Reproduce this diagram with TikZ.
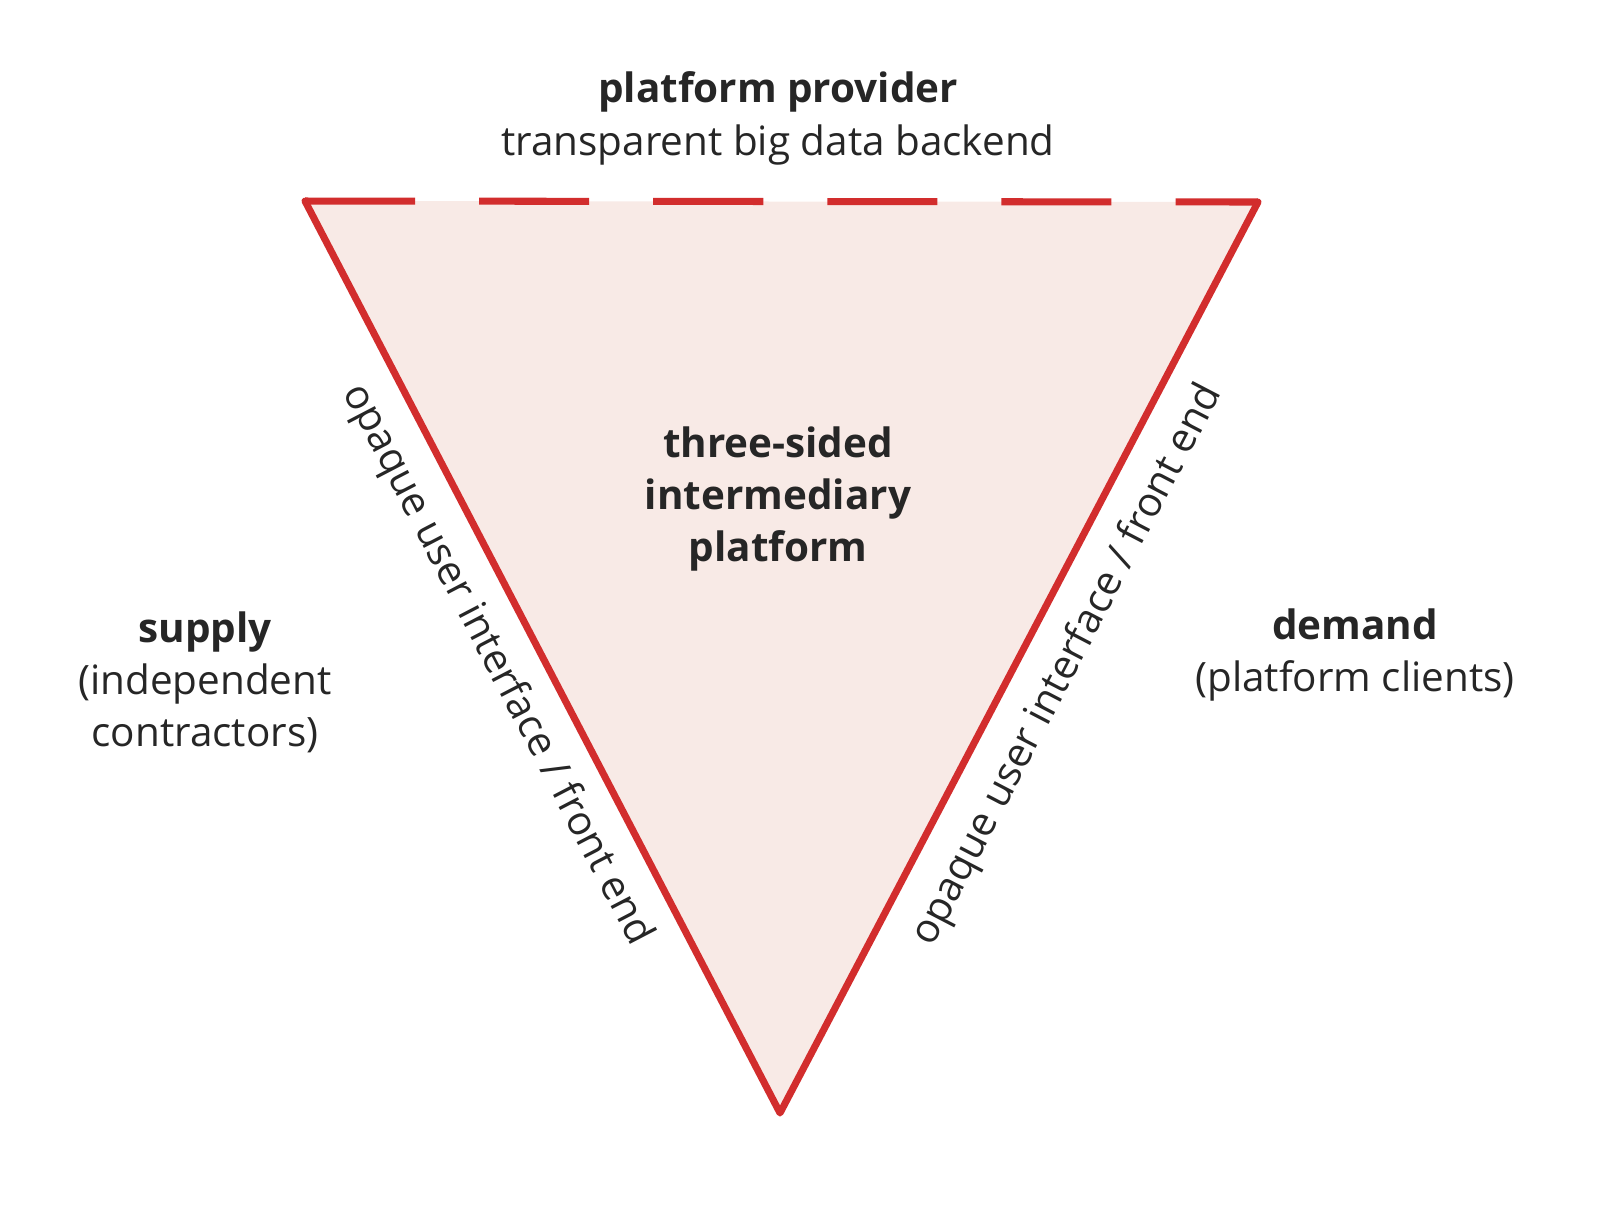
\documentclass[tikz,border=0pt]{standalone}
\usepackage{fontspec}
\setmainfont{Open Sans}
\usetikzlibrary{positioning}
\definecolor{edgered}{RGB}{210,45,45}
\definecolor{innerpink}{RGB}{248,234,230}
\begin{document}
\begin{tikzpicture}[
        x = 0.01cm, y = -0.01cm, % pixel grid, y downwards
        every node/.style = {font=\fontsize{11.5}{14.8}\selectfont, align=center, text=black!85},
        heading/.style = {font=\fontsize{11.5}{14.8}\selectfont\bfseries},
        side/.style = {line width=2pt, draw=edgered, line cap=round, line join=round}
    ]
    \useasboundingbox (0,0) rectangle (1600,1205);

    % corners of the triangle
    \coordinate (TL) at (305,201);
    \coordinate (TR) at (1258,202);
    \coordinate (B) at (780,1113);

    \fill[innerpink] (TL) -- (TR) -- (B) -- cycle;
    \draw[side, line cap=butt, dash pattern=on 38pt off 0pt] (TL) -- ++(0,0);
    \draw[side, line cap=butt, dash pattern=on 1.1cm off 0.64cm] (TL) -- (TR);
    \draw[side] (TR) -- (B) -- (TL);

    \node[heading] (prov) at (778,92) {platform provider};
    \node (back) at (778,145) {transparent big data backend};

    \node[heading] (plat) at (778,499) {three-sided\\intermediary\\platform};

    \node (supply) at (205,682) {\textbf{supply}\\(independent\\contractors)};
    \node (demand) at (1355,655) {\textbf{demand}\\(platform clients)};

    \node[rotate=-62.5] (leftui) at (497,665) {opaque user interface / front end};
    \node[rotate=62.5] (rightui) at (1068,665) {opaque user interface / front end};
\end{tikzpicture}
\end{document}
